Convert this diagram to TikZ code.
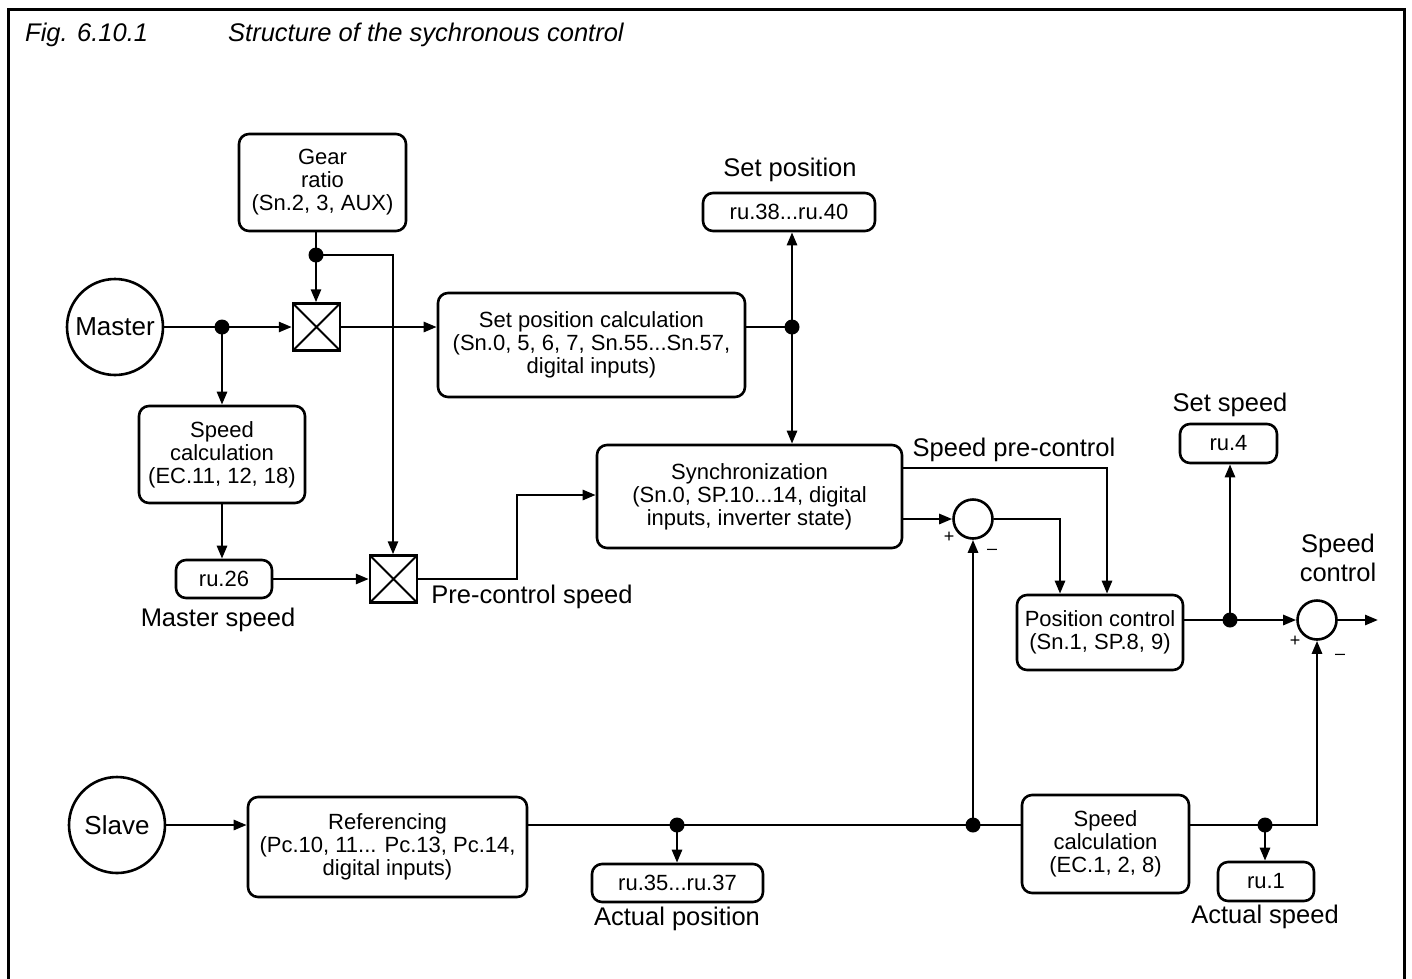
\documentclass[tikz,border=0pt]{standalone}
\usepackage{fontspec}
\setmainfont{Liberation Sans}
\usetikzlibrary{arrows.meta}
\begin{document}
\begin{tikzpicture}[x=1pt,y=-1pt,
 ln/.style={line width=2.6pt},
 arr/.style={line width=2.6pt, -{Triangle[length=13pt,width=10pt]}},
 box/.style={draw, line width=2.6pt, rounded corners=10pt, align=center, inner sep=0pt, font=\fontsize{22}{23}\selectfont},
 lbl/.style={font=\fontsize{25.5}{29}\selectfont, inner sep=0pt, align=center},
 dot/.style={circle, fill, minimum size=15pt, inner sep=0pt},
 sumj/.style={circle, draw, line width=2.6pt, minimum size=39pt, inner sep=0pt},
 io/.style={circle, draw, line width=2.6pt, minimum size=96pt, inner sep=0pt, font=\fontsize{26}{28}\selectfont},
 sgn/.style={font=\fontsize{18}{18}\selectfont, inner sep=0pt},
 mul/.style={draw, line width=2.4pt, minimum size=47pt, inner sep=0pt,
   path picture={\draw[line width=1.8pt] (path picture bounding box.south west) -- (path picture bounding box.north east)
     (path picture bounding box.north west) -- (path picture bounding box.south east);}}
]
\useasboundingbox (0,0) rectangle (1412,978);
\draw[line width=3pt] (8,980) -- (8,9) -- (1404,9) -- (1404,980);
\node[anchor=base west, font=\fontsize{25.5}{28}\selectfont\itshape, inner sep=0pt] (fig) at (25,41) {Fig. 6.10.1};
\node[anchor=base west, font=\fontsize{25.5}{28}\selectfont\itshape, inner sep=0pt] (title) at (228,41) {Structure of the sychronous control};

% nodes
\node[box, minimum width=167pt, minimum height=97pt] (gear) at (322.5,182.5) {Gear\\ratio\\(Sn.2, 3, AUX)};
\node[io] (master) at (115,327) {Master};
\node[mul] (mul1) at (316.5,327) {};
\node[box, minimum width=307pt, minimum height=104pt] (setcalc) at (591.5,345) {Set position calculation\\(Sn.0, 5, 6, 7, Sn.55...Sn.57,\\digital inputs)};
\node[box, minimum width=172pt, minimum height=38pt] (setpos) at (789,212) {ru.38...ru.40};
\node[lbl] (setposl) at (790,170) {Set position};
\node[box, minimum width=166pt, minimum height=97pt] (spdm) at (222,454.5) {Speed\\calculation\\(EC.11, 12, 18)};
\node[box, minimum width=96pt, minimum height=38pt] (ru26) at (224,579) {ru.26};
\node[lbl] (msl) at (218,620) {Master speed};
\node[mul] (mul2) at (393.5,579) {};
\node[lbl] (pcl) at (532,597) {Pre-control speed};
\node[box, minimum width=305pt, minimum height=103pt] (sync) at (749.5,496.5) {Synchronization\\(Sn.0, SP.10...14, digital\\inputs, inverter state)};
\node[lbl] (spcl) at (1014,450) {Speed pre-control};
\node[sumj] (sum1) at (973,519) {};
\node[sgn] (p1) at (949,537) {+};
\node[sgn] (m1) at (992,552) {–};
\node[box, minimum width=166pt, minimum height=75pt] (posc) at (1100,632.5) {Position control\\(Sn.1, SP.8, 9)};
\node[box, minimum width=97pt, minimum height=39pt] (ru4) at (1228.5,443.5) {ru.4};
\node[lbl] (ssl) at (1230,405) {Set speed};
\node[sumj] (sum2) at (1317,620) {};
\node[sgn] (p2) at (1295,641) {+};
\node[sgn] (m2) at (1340,657) {–};
\node[lbl] (scl) at (1338,558) {Speed\\control};
\node[io] (slave) at (117,825) {Slave};
\node[box, minimum width=279pt, minimum height=100pt] (ref) at (387.5,847) {Referencing\\(Pc.10, 11... Pc.13, Pc.14,\\digital inputs)};
\node[box, minimum width=171pt, minimum height=38pt] (ru35) at (677.5,883) {ru.35...ru.37};
\node[lbl] (apl) at (677,919) {Actual position};
\node[box, minimum width=167pt, minimum height=98pt] (spds) at (1105.5,844) {Speed\\calculation\\(EC.1, 2, 8)};
\node[box, minimum width=96pt, minimum height=39pt] (ru1) at (1266,881.5) {ru.1};
\node[lbl] (asl) at (1265,917) {Actual speed};

% dots and coordinates
\node[dot] (d1) at (316,255) {};
\node[dot] (d2) at (222,327) {};
\node[dot] (d3) at (792,327) {};
\node[dot] (d4) at (1230,620) {};
\node[dot] (d5) at (677,825) {};
\node[dot] (d6) at (973,825) {};
\node[dot] (d7) at (1265,825) {};
\coordinate (c1) at (393,255);
\coordinate (c3) at (517,495);
\coordinate (spc) at (1107,468);
\coordinate (c2) at (1060,519);
\coordinate (out) at (1378,620);

% connectors
\draw[ln] (d1|-gear.south) -- (d1.center);
\draw[arr] (d1.center) -- (d1|-mul1.north);
\draw[arr] (d1.center) -- (c1) -- (c1|-mul2.north);
\draw[ln] (master.east) -- (d2.center);
\draw[arr] (d2.center) -- (mul1.west);
\draw[arr] (d2.center) -- (d2|-spdm.north);
\draw[arr] (mul1.east) -- (setcalc.west|-mul1);
\draw[ln] (setcalc.east|-d3) -- (d3.center);
\draw[arr] (d3.center) -- (d3|-setpos.south);
\draw[arr] (d3.center) -- (d3|-sync.north);
\draw[arr] (spdm.south) -- (spdm.south|-ru26.north);
\draw[arr] (ru26.east) -- (mul2.west);
\draw[arr] (mul2.east) -- (c3|-mul2) -- (c3) -- (sync.west|-c3);
\draw[arr] (sync.east|-spc) -- (spc) -- (spc|-posc.north);
\draw[arr] (sync.east|-sum1) -- (sum1.west);
\draw[arr] (sum1.east) -- (c2) -- (c2|-posc.north);
\draw[ln] (posc.east|-d4) -- (d4.center);
\draw[arr] (d4.center) -- (sum2.west);
\draw[arr] (d4.center) -- (d4|-ru4.south);
\draw[arr] (sum2.east) -- (out);
\draw[arr] (slave.east) -- (ref.west|-slave);
\draw[ln] (ref.east|-d5) -- (d5.center) -- (d6.center) -- (spds.west|-d6);
\draw[arr] (d5.center) -- (d5|-ru35.north);
\draw[arr] (d6.center) -- (sum1.south);
\draw[ln] (spds.east|-d7) -- (d7.center);
\draw[arr] (d7.center) -- (d7|-ru1.north);
\draw[arr] (d7.center) -- (d7-|sum2) -- (sum2.south);
\end{tikzpicture}
\end{document}
